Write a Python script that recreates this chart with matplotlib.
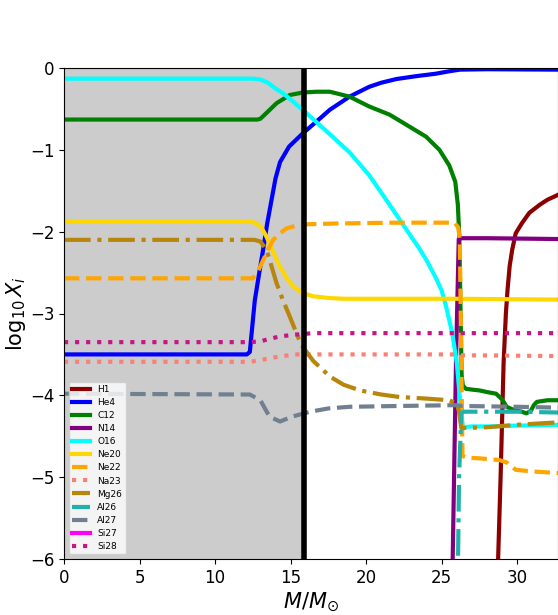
import matplotlib
matplotlib.use("Agg")
import matplotlib.pyplot as plt

# ---- data (mass coordinate M/Msun, log10 X_i) ----
h1_m = [28.72, 28.9, 29.1, 29.25, 29.36, 29.5, 29.67, 29.9, 30.3, 30.8, 31.5, 32.0, 32.7]
h1_x = [-6.1, -5.0, -3.6, -3.0, -2.71, -2.42, -2.22, -2.02, -1.9, -1.77, -1.67, -1.61, -1.55]

he4_m = [0, 12.1, 12.3, 12.63, 12.9, 13.18, 13.45, 13.74, 14.0, 14.3, 14.9, 15.8, 16.8, 17.6, 18.9, 20.2, 21.0, 22.0, 23.3, 24.6, 25.5, 26.2, 28.0, 32.7]
he4_x = [-3.5, -3.5, -3.47, -2.84, -2.53, -2.22, -1.9, -1.61, -1.35, -1.15, -0.96, -0.8, -0.64, -0.51, -0.35, -0.23, -0.18, -0.135, -0.1, -0.07, -0.04, -0.02, -0.015, -0.02]

c12_m = [0, 12.8, 13.0, 13.4, 14.07, 14.95, 15.8, 16.7, 17.6, 18.9, 20.2, 21.55, 22.9, 23.97, 24.85, 25.5, 25.9, 26.07, 26.17, 26.25, 26.32, 26.4, 26.6, 27.0, 27.5, 28.0, 28.6, 29.0, 29.3, 29.8, 30.3, 30.6, 30.9, 31.1, 31.3, 32.0, 32.7]
c12_x = [-0.63, -0.63, -0.62, -0.55, -0.43, -0.33, -0.3, -0.29, -0.29, -0.35, -0.47, -0.57, -0.72, -0.84, -1.0, -1.19, -1.39, -1.67, -2.07, -3.0, -3.75, -3.88, -3.92, -3.93, -3.94, -3.96, -3.98, -4.05, -4.14, -4.18, -4.2, -4.22, -4.19, -4.12, -4.08, -4.06, -4.06]

n14_m = [25.72, 25.95, 26.08, 26.13, 26.3, 28.0, 32.7]
n14_x = [-6.1, -3.57, -2.5, -2.09, -2.08, -2.08, -2.09]

o16_m = [0, 12.5, 13.0, 13.5, 14.0, 14.5, 15.1, 15.8, 16.7, 17.6, 18.9, 20.2, 21.55, 22.5, 23.5, 24.0, 24.6, 25.0, 25.3, 25.7, 26.0, 26.2, 26.4, 27.0, 28.0, 30.0, 32.7]
o16_x = [-0.13, -0.13, -0.14, -0.18, -0.25, -0.31, -0.4, -0.51, -0.66, -0.81, -1.03, -1.31, -1.67, -1.93, -2.2, -2.35, -2.56, -2.72, -2.92, -3.24, -3.6, -4.02, -4.39, -4.38, -4.38, -4.37, -4.36]

ne20_m = [0, 12.4, 12.75, 13.1, 13.4, 13.85, 14.3, 14.75, 15.17, 15.8, 16.5, 17.5, 18.5, 20.0, 26.0, 32.7]
ne20_x = [-1.88, -1.88, -1.9, -1.96, -2.06, -2.25, -2.43, -2.57, -2.67, -2.75, -2.79, -2.81, -2.82, -2.82, -2.82, -2.83]

ne22_m = [0, 12.5, 12.85, 13.18, 13.5, 13.85, 14.3, 14.73, 15.3, 16.05, 18.0, 22.0, 25.85, 26.1, 26.2, 26.38, 26.6, 27.5, 28.8, 29.3, 29.9, 31.0, 32.7]
ne22_x = [-2.57, -2.57, -2.48, -2.35, -2.22, -2.1, -2.02, -1.96, -1.93, -1.91, -1.9, -1.89, -1.89, -1.95, -2.1, -4.74, -4.76, -4.77, -4.79, -4.82, -4.91, -4.93, -4.95]

na23_m = [0, 12.3, 13.0, 13.8, 14.5, 15.3, 16.05, 20.0, 26.0, 26.3, 32.7]
na23_x = [-3.59, -3.59, -3.57, -3.54, -3.52, -3.5, -3.5, -3.5, -3.5, -3.51, -3.52]

mg26_m = [0, 12.6, 13.0, 13.4, 13.7, 14.07, 14.5, 14.95, 15.3, 15.7, 16.5, 17.6, 18.5, 19.6, 21.0, 22.2, 24.0, 25.5, 26.0, 26.15, 26.3, 26.45, 28.0, 30.0, 32.7]
mg26_x = [-2.1, -2.1, -2.12, -2.22, -2.4, -2.63, -2.84, -3.04, -3.2, -3.38, -3.58, -3.77, -3.87, -3.94, -3.99, -4.02, -4.04, -4.06, -4.1, -4.2, -4.4, -4.4, -4.39, -4.36, -4.33]

al26_m = [26.05, 26.15, 26.3, 26.45, 28.0, 30.0, 32.7]
al26_x = [-6.5, -5.0, -4.22, -4.2, -4.2, -4.2, -4.21]

al27_m = [0, 12.3, 13.0, 13.6, 14.3, 15.1, 16.3, 17.5, 18.9, 22.2, 26.0, 26.3, 30.0, 32.7]
al27_x = [-3.98, -3.99, -4.06, -4.26, -4.32, -4.26, -4.2, -4.16, -4.14, -4.13, -4.12, -4.13, -4.14, -4.15]

si27_m = [0, 32.7]
si27_x = [-7.5, -7.5]

si28_m = [0, 12.3, 13.0, 13.6, 14.3, 15.2, 16.5, 20.0, 32.7]
si28_x = [-3.35, -3.35, -3.34, -3.31, -3.28, -3.26, -3.24, -3.24, -3.24]

core_mass = 15.9
x_max = 32.7

series = [
    ("H1", h1_m, h1_x, "darkred", "-"),
    ("He4", he4_m, he4_x, "blue", "-"),
    ("C12", c12_m, c12_x, "green", "-"),
    ("N14", n14_m, n14_x, "purple", "-"),
    ("O16", o16_m, o16_x, "cyan", "-"),
    ("Ne20", ne20_m, ne20_x, "gold", "-"),
    ("Ne22", ne22_m, ne22_x, "orange", "--"),
    ("Na23", na23_m, na23_x, "salmon", ":"),
    ("Mg26", mg26_m, mg26_x, "darkgoldenrod", "-."),
    ("Al26", al26_m, al26_x, "lightseagreen", "-."),
    ("Al27", al27_m, al27_x, "slategray", "--"),
    ("Si27", si27_m, si27_x, "magenta", "-"),
    ("Si28", si28_m, si28_x, "mediumvioletred", ":"),
]

fig = plt.figure(figsize=(5.58, 6.15), dpi=100)
ax = fig.add_axes([64 / 558, 56 / 615, 494 / 558, 491 / 615])

ax.axvspan(0, core_mass, color="0.8", zorder=0)
for name, m, x, c, ls in series:
    ax.plot(m, x, color=c, ls=ls, lw=3, label=name)
ax.axvline(core_mass, color="black", lw=4)

ax.set_xlim(0, x_max)
ax.set_ylim(-6, 0)
ax.set_xlabel(r"$M/M_{\odot}$", fontsize=15, labelpad=3)
ax.set_ylabel(r"$\log_{10}X_i$", fontsize=15, labelpad=1)
ax.tick_params(labelsize=12)
ax.legend(loc="lower left", fontsize=6.5, handlelength=2.0, labelspacing=0.45)

fig.savefig("out.png", dpi=100)
